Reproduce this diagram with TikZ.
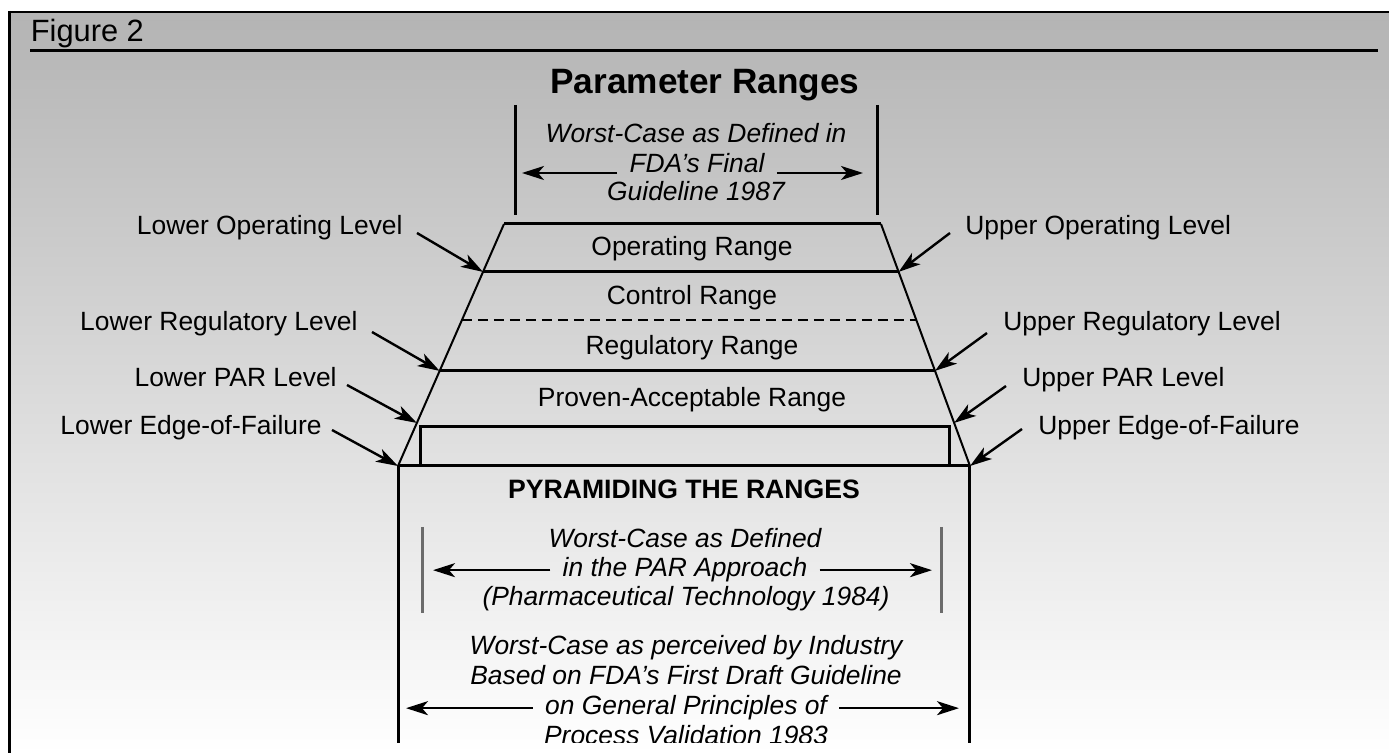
\documentclass[tikz,border=0pt]{standalone}
\usepackage{fontspec}
\setmainfont{Liberation Sans}
\usetikzlibrary{arrows.meta}
\usetikzlibrary{calc}
\definecolor{bgtop}{gray}{0.705}
\definecolor{divgray}{gray}{0.42}
\tikzset{>={Stealth[length=11pt,width=7pt,inset=3pt]}}
\tikzset{heavy/.style={line width=1.5pt}}
\tikzset{light/.style={line width=1pt}}
\tikzset{pointer/.style={->,line width=1.2pt}}
\tikzset{lvl/.style={anchor=base,inner sep=0pt,font=\fontsize{13.2}{15}\selectfont}}
\tikzset{note/.style={anchor=base,inner ysep=0pt,inner xsep=6pt,font=\fontsize{13.2}{15}\selectfont\itshape}}

\begin{document}
\begin{tikzpicture}[x=0.5pt,y=-0.5pt]
\useasboundingbox (0,0) rectangle (1389,753);

% frame and background
\shade[top color=bgtop,bottom color=white] (11,13) rectangle (1389,753);
\draw[light] (8,12) -- (1389,12);
\draw[heavy] (9.5,11) -- (9.5,753);
\node[anchor=base west,inner sep=0pt,font=\fontsize{15.4}{18}\selectfont] (fig) at (30.5,42) {Figure 2};
\draw[heavy] (30,51) -- (1378,51);

\node[anchor=base,inner sep=0pt,font=\fontsize{17.6}{20}\selectfont\bfseries] (title) at (705,94) {Parameter Ranges};

% final guideline span
\draw[heavy] (515,105) -- (515,215);
\draw[heavy] (877,105) -- (877,215);
\node[note] (fdaA) at (696,143) {Worst-Case as Defined in};
\node[note] (fdaB) at (697,173) {FDA’s Final};
\node[note] (fdaC) at (696,201) {Guideline 1987};
\coordinate (fdaL) at (522,174);
\coordinate (fdaR) at (863,174);
\draw[pointer] (fdaB.base west) -- (fdaB.base west -| fdaL);
\draw[pointer] (fdaB.base east) -- (fdaB.base east -| fdaR);

% pyramid
\coordinate (topL) at (504,224);
\coordinate (topR) at (881,224);
\coordinate (botL) at (398,466);
\coordinate (botR) at (970,466);
\coordinate (opL) at ($(topL)!0.198!(botL)$);
\coordinate (opR) at ($(topR)!0.198!(botR)$);
\coordinate (ctL) at ($(topL)!0.397!(botL)$);
\coordinate (ctR) at ($(topR)!0.397!(botR)$);
\coordinate (rgL) at ($(topL)!0.607!(botL)$);
\coordinate (rgR) at ($(topR)!0.607!(botR)$);
\coordinate (parL) at ($(topL)!0.822!(botL)$);
\coordinate (parR) at ($(topR)!0.822!(botR)$);

\draw[light] (topL) -- (botL);
\draw[light] (topR) -- (botR);
\draw[heavy] (topL) -- (topR);
\draw[heavy] (opL) -- (opR);
\draw[light,dash pattern=on 5pt off 3pt] (ctL) -- (ctR);
\draw[heavy] (rgL) -- (rgR);
\draw[heavy] (botL) -- (botR);
\draw[heavy] (420,427) rectangle (949,466);

\node[lvl] (oprng) at (692,256) {Operating Range};
\node[lvl] (ctrng) at (692,305) {Control Range};
\node[lvl] (rgrng) at (692,355) {Regulatory Range};
\node[lvl] (parrng) at (692,407) {Proven-Acceptable Range};

% level labels
\node[lvl,anchor=base east] (lop) at (403,235) {Lower Operating Level};
\node[lvl,anchor=base east] (lrg) at (358,331) {Lower Regulatory Level};
\node[lvl,anchor=base east] (lpar) at (337,387) {Lower PAR Level};
\node[lvl,anchor=base east] (leof) at (322,435) {Lower Edge-of-Failure};
\node[lvl,anchor=base west] (uop) at (965,235) {Upper Operating Level};
\node[lvl,anchor=base west] (urg) at (1003,331) {Upper Regulatory Level};
\node[lvl,anchor=base west] (upar) at (1022,387) {Upper PAR Level};
\node[lvl,anchor=base west] (ueof) at (1038,435) {Upper Edge-of-Failure};

\draw[pointer] ($(lop.base east)+(14,-2)$) -- (opL);
\draw[pointer] ($(lrg.base east)+(14,1)$) -- (rgL);
\draw[pointer] ($(lpar.base east)+(10,-2)$) -- (parL);
\draw[pointer] ($(leof.base east)+(10,-5)$) -- (botL);
\draw[pointer] ($(uop.base west)+(-15,-2)$) -- (opR);
\draw[pointer] ($(urg.base west)+(-16,2)$) -- (rgR);
\draw[pointer] ($(upar.base west)+(-16,-1)$) -- (parR);
\draw[pointer] ($(ueof.base west)+(-16,-6)$) -- (botR);

% lower box, cut off at the bottom
\begin{scope}
\clip (11,13) rectangle (1389,743);
\draw[heavy] (botL) -- (398,770);
\draw[heavy] (969,466) -- (969,770);

\node[anchor=base,inner sep=0pt,font=\fontsize{13.3}{15}\selectfont\bfseries] (pyr) at (684,499) {PYRAMIDING THE RANGES};

\draw[heavy,divgray] (422,527) -- (422,613);
\draw[heavy,divgray] (941,527) -- (941,613);
\node[note] (parA) at (685,548) {Worst-Case as Defined};
\node[note] (parB) at (685,577) {in the PAR Approach};
\node[note] (parC) at (686,606) {(Pharmaceutical Technology 1984)};
\coordinate (parTL) at (433,568);
\coordinate (parTR) at (932,568);
\draw[pointer] (parB.west) -- (parB.west -| parTL);
\draw[pointer] (parB.east) -- (parB.east -| parTR);

\node[note] (indA) at (686,655) {Worst-Case as perceived by Industry};
\node[note] (indB) at (686,685) {Based on FDA’s First Draft Guideline};
\node[note] (indC) at (686,715) {on General Principles of};
\node[note] (indD) at (686,745) {Process Validation 1983};
\coordinate (indTL) at (406,708);
\coordinate (indTR) at (959,708);
\draw[pointer] (indC.west) -- (indC.west -| indTL);
\draw[pointer] (indC.east) -- (indC.east -| indTR);
\end{scope}

\end{tikzpicture}
\end{document}
